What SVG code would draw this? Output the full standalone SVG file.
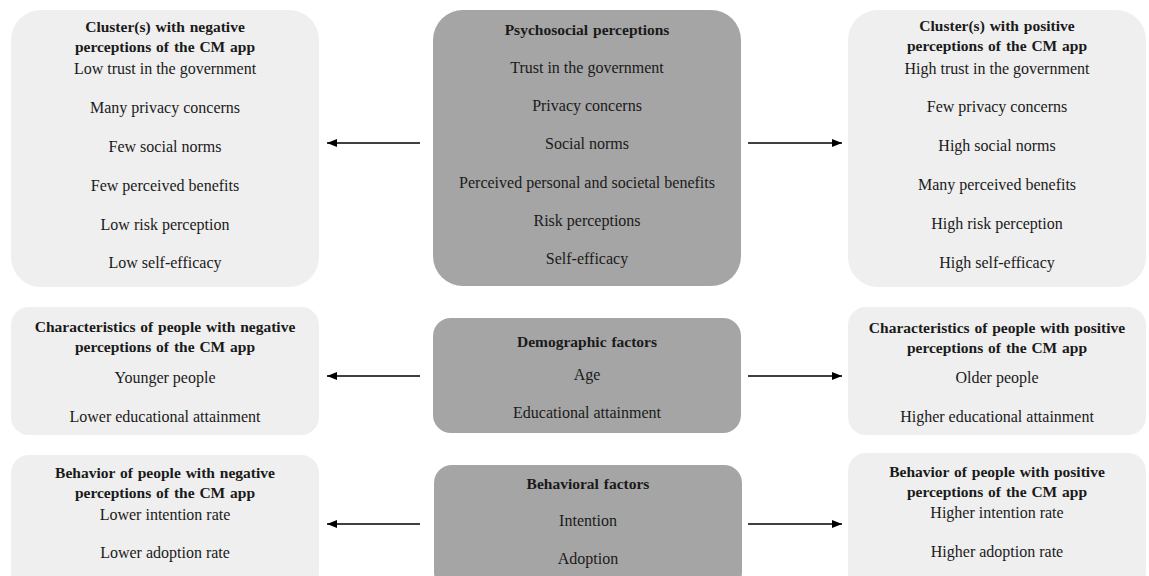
<svg xmlns="http://www.w3.org/2000/svg" width="1149" height="576" viewBox="0 0 1149 576">
<style>
.light{fill:#efefef;}
.dark{fill:#a5a5a5;}
text{font-family:"Liberation Serif","Times New Roman",serif;font-size:16px;fill:#1a1a1a;text-anchor:middle;}
.b{font-weight:bold;font-size:15.5px;word-spacing:1px;}
.conn line{stroke:#000;stroke-width:1.5;}
</style>
<defs>
<marker id="ah" viewBox="0 0 10 8" refX="10" refY="4" markerWidth="10" markerHeight="8" markerUnits="userSpaceOnUse" orient="auto">
<path d="M0,0 L10,4 L0,8 z" fill="#000"/>
</marker>
</defs>
<rect width="1149" height="576" fill="#fff"/>

<g id="neg-clusters">
<rect class="light" x="11" y="10" width="308" height="277" rx="30"/>
<text class="b" x="165" y="32">Cluster(s) with negative</text>
<text class="b" x="165" y="52">perceptions of the CM app</text>
<text x="165" y="74">Low trust in the government</text>
<text x="165" y="113">Many privacy concerns</text>
<text x="165" y="152">Few social norms</text>
<text x="165" y="191">Few perceived benefits</text>
<text x="165" y="230">Low risk perception</text>
<text x="165" y="268">Low self-efficacy</text>
</g>

<g id="psychosocial">
<rect class="dark" x="433" y="10" width="308" height="276" rx="30"/>
<text class="b" x="587" y="35">Psychosocial perceptions</text>
<text x="587" y="73">Trust in the government</text>
<text x="587" y="111">Privacy concerns</text>
<text x="587" y="149">Social norms</text>
<text x="587" y="188">Perceived personal and societal benefits</text>
<text x="587" y="226">Risk perceptions</text>
<text x="587" y="264">Self-efficacy</text>
</g>

<g id="pos-clusters">
<rect class="light" x="848" y="10" width="298" height="277" rx="30"/>
<text class="b" x="997" y="31">Cluster(s) with positive</text>
<text class="b" x="997" y="51">perceptions of the CM app</text>
<text x="997" y="74">High trust in the government</text>
<text x="997" y="112">Few privacy concerns</text>
<text x="997" y="151">High social norms</text>
<text x="997" y="190">Many perceived benefits</text>
<text x="997" y="229">High risk perception</text>
<text x="997" y="268">High self-efficacy</text>
</g>

<g id="neg-characteristics">
<rect class="light" x="11" y="307" width="308" height="128" rx="18"/>
<text class="b" x="165" y="332">Characteristics of people with negative</text>
<text class="b" x="165" y="352">perceptions of the CM app</text>
<text x="165" y="383">Younger people</text>
<text x="165" y="422">Lower educational attainment</text>
</g>

<g id="demographic">
<rect class="dark" x="433" y="318" width="308" height="115" rx="18"/>
<text class="b" x="587" y="347">Demographic factors</text>
<text x="587" y="380">Age</text>
<text x="587" y="418">Educational attainment</text>
</g>

<g id="pos-characteristics">
<rect class="light" x="848" y="307" width="298" height="128" rx="18"/>
<text class="b" x="997" y="333">Characteristics of people with positive</text>
<text class="b" x="997" y="353">perceptions of the CM app</text>
<text x="997" y="383">Older people</text>
<text x="997" y="422">Higher educational attainment</text>
</g>

<g id="neg-behavior">
<rect class="light" x="11" y="455" width="308" height="135" rx="18"/>
<text class="b" x="165" y="478">Behavior of people with negative</text>
<text class="b" x="165" y="498">perceptions of the CM app</text>
<text x="165" y="520">Lower intention rate</text>
<text x="165" y="558">Lower adoption rate</text>
</g>

<g id="behavioral">
<rect class="dark" x="434" y="465" width="308" height="125" rx="18"/>
<text class="b" x="588" y="489">Behavioral factors</text>
<text x="588" y="526">Intention</text>
<text x="588" y="564">Adoption</text>
</g>

<g id="pos-behavior">
<rect class="light" x="848" y="453" width="298" height="137" rx="18"/>
<text class="b" x="997" y="477">Behavior of people with positive</text>
<text class="b" x="997" y="497">perceptions of the CM app</text>
<text x="997" y="518">Higher intention rate</text>
<text x="997" y="557">Higher adoption rate</text>
</g>

<g id="connectors" class="conn">
<line x1="420" y1="143" x2="327" y2="143" marker-end="url(#ah)"/>
<line x1="748" y1="143" x2="842" y2="143" marker-end="url(#ah)"/>
<line x1="420" y1="376" x2="327" y2="376" marker-end="url(#ah)"/>
<line x1="748" y1="376" x2="842" y2="376" marker-end="url(#ah)"/>
<line x1="420" y1="524" x2="327" y2="524" marker-end="url(#ah)"/>
<line x1="748" y1="524" x2="842" y2="524" marker-end="url(#ah)"/>
</g>
</svg>
